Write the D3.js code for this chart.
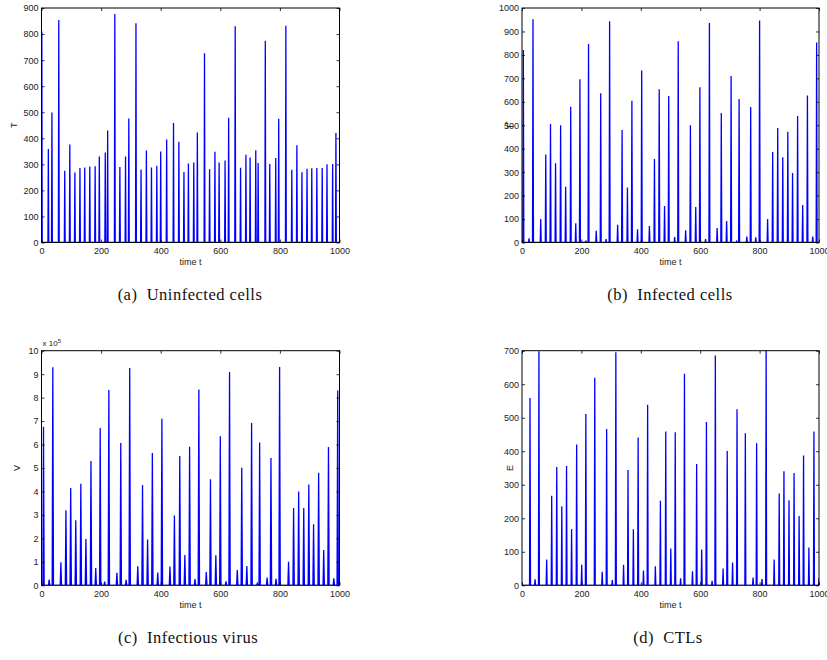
<!DOCTYPE html>
<html><head><meta charset="utf-8">
<script src="https://cdn.jsdelivr.net/npm/d3@7"></script>
<style>body{margin:0;background:#fff}svg{display:block}</style>
</head><body>
<svg id="chart" width="827" height="660"></svg>
<script>
// ---- data ----
const timeTicks = [0, 200, 400, 600, 800, 1000];
const ticksT = [0, 100, 200, 300, 400, 500, 600, 700, 800, 900];
const ticksTs = [0, 100, 200, 300, 400, 500, 600, 700, 800, 900, 1000];
const ticksV = [0, 1, 2, 3, 4, 5, 6, 7, 8, 9, 10];
const ticksE = [0, 100, 200, 300, 400, 500, 600, 700];

// Uninfected cells T: spike times / peak values
const timesT = [1, 23, 35, 58, 78, 95, 112, 129, 145, 162, 180, 194, 214, 222, 246, 263, 282, 293, 317, 334, 352, 369, 387, 400, 420, 443, 461, 478, 493, 511, 523, 547, 564, 582, 596, 616, 628, 650, 668, 686, 700, 719, 727, 751, 766, 786, 796, 820, 840, 857, 874, 891, 907, 924, 942, 958, 977, 988];
const valuesT = [810, 359, 499, 854, 275, 376, 269, 286, 288, 292, 293, 330, 345, 430, 877, 290, 330, 476, 841, 280, 353, 288, 295, 349, 395, 459, 387, 271, 303, 307, 422, 726, 281, 348, 307, 315, 479, 830, 287, 337, 326, 354, 305, 774, 301, 324, 475, 832, 279, 373, 270, 283, 285, 286, 286, 300, 301, 420];

// Infected cells T*
const timesTs = [4.5, 23.6, 37, 63, 80, 96, 113, 130, 147, 164, 181, 195, 215, 224, 250, 265, 283, 295, 322, 337, 355, 370, 389, 403, 429, 446, 462, 480, 494, 514, 526, 551, 567, 585, 599, 618, 631, 657, 671, 689, 704, 723, 731, 757, 770, 787, 800, 827, 844, 861, 878, 895, 911, 928, 945, 961, 979, 992];
const valuesTs = [821, 18, 952, 100, 375, 505, 338, 500, 238, 579, 82, 696, 8, 846, 50, 636, 15, 943, 76, 480, 235, 605, 56, 734, 70, 356, 653, 156, 625, 23, 858, 52, 500, 151, 662, 15, 936, 62, 552, 92, 710, 5, 612, 25, 578, 22, 947, 100, 386, 488, 363, 472, 296, 539, 160, 627, 25, 853];

// Infectious virus V (x 10^5)
const timesV = [6.7, 25.7, 38, 65, 82, 98, 115, 132, 149, 166, 182, 197, 212, 226, 253, 266, 284, 296, 323, 339, 356, 372, 390, 404, 431, 446, 464, 481, 497, 515, 528, 553, 567, 585, 600, 619, 631, 657, 672, 689, 705, 724, 732, 757, 770, 787, 799, 829, 846, 863, 880, 897, 913, 930, 947, 963, 981, 994];
const valuesV = [6.76, 0.24, 9.29, 0.98, 3.2, 4.15, 2.77, 4.33, 1.97, 5.3, 0.74, 6.7, 0.16, 8.32, 0.53, 6.07, 0.23, 9.26, 0.81, 4.28, 1.95, 5.64, 0.54, 7.1, 0.8, 2.98, 5.51, 1.29, 5.91, 0.27, 8.35, 0.57, 4.52, 1.28, 6.35, 0.17, 9.09, 0.65, 5.01, 0.82, 6.92, 0.08, 6.09, 0.33, 5.43, 0.28, 9.3, 1.0, 3.3, 4.0, 3.3, 4.3, 2.6, 4.8, 1.5, 5.9, 0.3, 8.3];

// CTLs E
const timesE = [27, 44, 57, 83, 100, 117, 134, 150, 167, 184, 201, 215, 245, 270, 285, 304, 316, 342, 357, 375, 391, 409, 423, 449, 466, 484, 501, 516, 534, 547, 574, 588, 605, 621, 640, 651, 677, 691, 709, 724, 752, 778, 790, 808, 822, 849, 866, 882, 899, 916, 933, 948, 966, 983, 1000];
const valuesE = [559, 18, 698, 77, 267, 353, 236, 356, 168, 420, 61, 511, 619, 40, 466, 16, 695, 61, 344, 167, 441, 44, 539, 57, 252, 459, 110, 457, 21, 631, 42, 362, 107, 487, 13, 686, 50, 401, 68, 525, 454, 23, 424, 19, 705, 77, 274, 340, 254, 335, 207, 387, 113, 459, 22];

const captions = [["(a)", "Uninfected cells"], ["(b)", "Infected cells"], ["(c)", "Infectious virus"], ["(d)", "CTLs"]];

// ---- layout ----
const panels = [
  {left: 41.5, right: 339.5, top: 8, bottom: 242.5, ymax: 900, yticks: ticksT, times: timesT, values: valuesT, w: 1.4, ylab: "T", sup: "", capX: 190, capY: 300, labX: 14},
  {left: 522, right: 819, top: 8, bottom: 242.5, ymax: 1000, yticks: ticksTs, times: timesTs, values: valuesTs, w: 1.6, ylab: "T", sup: "*", capX: 670, capY: 300, labX: 510},
  {left: 41.5, right: 339.5, top: 350.7, bottom: 585.3, ymax: 10, yticks: ticksV, times: timesV, values: valuesV, w: 2.2, ylab: "V", sup: "", capX: 188, capY: 643, labX: 17, mult: true},
  {left: 522, right: 819, top: 350.7, bottom: 585.3, ymax: 700, yticks: ticksE, times: timesE, values: valuesE, w: 1.6, ylab: "E", sup: "", capX: 668, capY: 643, labX: 510}
];

const svg = d3.select("#chart");
const tickFont = "Liberation Sans, Arial, Helvetica, sans-serif";

function spikeSeries(times, values, w) {
  const pts = [[0, 0]];
  times.forEach((t, i) => { pts.push([t - w, 0], [t, values[i]], [t + w, 0]); });
  pts.push([1000, 0]);
  return pts;
}

panels.forEach((p, k) => {
  const x = d3.scaleLinear().domain([0, 1000]).range([p.left, p.right]);
  const y = d3.scaleLinear().domain([0, p.ymax]).range([p.bottom, p.top]);
  const g = svg.append("g");

  const clipId = "clip" + k;
  g.append("clipPath").attr("id", clipId).append("rect")
    .attr("x", p.left).attr("y", p.top - 0.5).attr("width", p.right - p.left).attr("height", p.bottom - p.top + 0.5);

  const line = d3.line().x(d => x(d[0])).y(d => y(d[1]));
  g.append("path").datum(spikeSeries(p.times, p.values, p.w))
    .attr("clip-path", `url(#${clipId})`)
    .attr("d", line).attr("fill", "none").attr("stroke", "#0000ff")
    .attr("stroke-width", 1.3).attr("stroke-linejoin", "miter");

  const fmt = d => String(d);
  const axB = d3.axisBottom(x).tickValues(timeTicks).tickFormat(fmt).tickSizeInner(-3).tickSizeOuter(0).tickPadding(5);
  const axT = d3.axisTop(x).tickValues(timeTicks).tickFormat("").tickSizeInner(-3).tickSizeOuter(0);
  const axL = d3.axisLeft(y).tickValues(p.yticks).tickFormat(fmt).tickSizeInner(-3).tickSizeOuter(0).tickPadding(3);
  const axR = d3.axisRight(y).tickValues(p.yticks).tickFormat("").tickSizeInner(-3).tickSizeOuter(0);

  const axes = [
    g.append("g").attr("transform", `translate(0,${p.bottom})`).call(axB),
    g.append("g").attr("transform", `translate(0,${p.top})`).call(axT),
    g.append("g").attr("transform", `translate(${p.left},0)`).call(axL),
    g.append("g").attr("transform", `translate(${p.right},0)`).call(axR)
  ];
  axes.forEach(a => {
    a.select(".domain").remove();
    a.selectAll("line").attr("stroke", "#000").attr("stroke-width", 0.8);
    a.selectAll("text").attr("font-family", tickFont).attr("font-size", 9).attr("fill", "#222");
  });

  g.append("rect").attr("x", p.left).attr("y", p.top)
    .attr("width", p.right - p.left).attr("height", p.bottom - p.top)
    .attr("fill", "none").attr("stroke", "#000").attr("stroke-width", 1);

  // x label
  g.append("text").attr("x", (p.left + p.right) / 2).attr("y", p.bottom + 22.5)
    .attr("text-anchor", "middle").attr("font-family", tickFont).attr("font-size", 9).attr("fill", "#222")
    .text("time t");

  // y label
  const yl = g.append("text")
    .attr("transform", `translate(${p.labX},${(p.top + p.bottom) / 2}) rotate(-90)`)
    .attr("text-anchor", "middle").attr("dy", "0.35em")
    .attr("font-family", tickFont).attr("font-size", 9).attr("fill", "#222");
  yl.append("tspan").text(p.ylab);
  if (p.sup) yl.append("tspan").attr("dy", "-0.45em").attr("font-size", 7).text(p.sup);

  if (p.mult) {
    const m = g.append("text").attr("x", p.left + 1).attr("y", p.top - 5)
      .attr("font-family", tickFont).attr("font-size", 8).attr("fill", "#222");
    m.append("tspan").text("x 10");
    m.append("tspan").attr("dy", "-0.45em").attr("font-size", 6).text("5");
  }

  // caption
  const c = captions[k];
  const cap = g.append("text").attr("x", p.capX).attr("y", p.capY).attr("text-anchor", "middle")
    .attr("font-family", "Liberation Serif, DejaVu Serif, serif").attr("font-size", 16.5)
    .attr("letter-spacing", 0.5).attr("fill", "#111")
    .style("white-space", "pre");
  cap.text(c[0] + "  " + c[1]);
});
</script>
</body></html>
